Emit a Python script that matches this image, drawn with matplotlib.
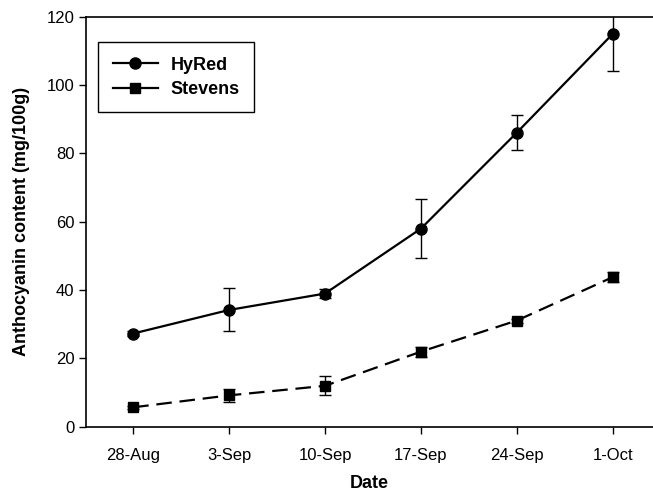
import matplotlib
matplotlib.use("Agg")
import matplotlib.pyplot as plt
from matplotlib.lines import Line2D

dates = ["28-Aug", "3-Sep", "10-Sep", "17-Sep", "24-Sep", "1-Oct"]
hyred = [27.3, 34.2, 39.0, 58.0, 86.1, 115.0]
hyred_err = [0.6, 6.3, 1.3, 8.7, 5.1, 11.0]
stevens = [5.7, 9.2, 12.0, 22.0, 31.1, 43.8]
stevens_err = [0.5, 2.0, 2.8, 1.5, 0.6, 1.5]

plt.rcParams['font.family'] = ['Liberation Sans', 'DejaVu Sans']

fig = plt.figure(figsize=(6.53, 4.94), dpi=100)
ax = fig.add_axes([0.132, 0.136, 0.868, 0.83])

x = list(range(len(dates)))
ax.errorbar(x, hyred, yerr=hyred_err, color='black', lw=1.6, marker='o', ms=8,
            capsize=4, elinewidth=1.0, capthick=1.0, label='HyRed')
line, _, _ = ax.errorbar(x, stevens, yerr=stevens_err, color='black', lw=1.6, marker='s', ms=7,
                         capsize=4, elinewidth=1.0, capthick=1.0, label='Stevens')
line.set_dashes((7, 3.5))

ax.set_xlim(-0.49, 5.42)
ax.set_ylim(0, 120)
ax.set_yticks([0, 20, 40, 60, 80, 100, 120])
ax.set_xticks(x)
ax.set_xticklabels(dates)
ax.tick_params(direction='out', labelsize=12, length=5, width=1)
ax.tick_params(axis='x', pad=10)
ax.spines['right'].set_visible(False)
for s in ['left', 'bottom', 'top']:
    ax.spines[s].set_linewidth(1.2)

ax.set_xlabel('Date', fontsize=13, fontweight='bold', labelpad=9)
ax.set_ylabel('Anthocyanin content (mg/100g)', fontsize=13, fontweight='bold', labelpad=12)

handles = [Line2D([], [], color='black', lw=1.6, marker='o', ms=8),
           Line2D([], [], color='black', lw=1.6, marker='s', ms=7)]
leg = ax.legend(handles, ['HyRed', 'Stevens'], loc='upper left', bbox_to_anchor=(0.005, 0.96),
                fancybox=False, edgecolor='black', framealpha=1,
                prop={'weight': 'bold', 'size': 13}, handlelength=2.5, borderpad=0.8,
                labelspacing=0.4, handletextpad=0.7)
leg.get_frame().set_linewidth(1.0)

fig.savefig('out.png', dpi=100)
